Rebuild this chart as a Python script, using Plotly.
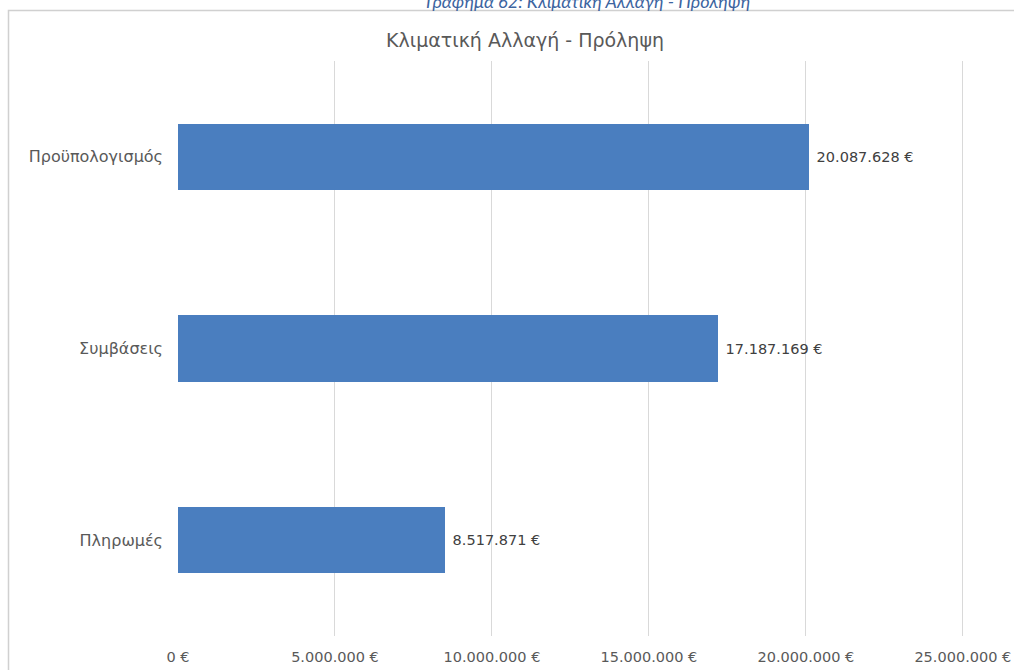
import plotly.graph_objects as go

categories = ["Προϋπολογισμός", "Συμβάσεις", "Πληρωμές"]
values = [20087628, 17187169, 8517871]
tick_vals = [0, 5000000, 10000000, 15000000, 20000000, 25000000]
title_text = "Κλιματική Αλλαγή - Πρόληψη"
caption_text = "Γράφημα 62: Κλιματική Αλλαγή - Πρόληψη"

def fmt(v):
    return f"{v:,}".replace(",", ".") + " €"

W, H = 1014, 670
L, R, T, B = 178, 50, 61, 34
pw, ph = W - L - R, H - T - B
x_max = tick_vals[-1] * 1.0015

def px_x(px):
    return (px - L) / pw

def px_y(py):
    return (H - B - py) / ph

font_family = "'DejaVu Sans', sans-serif"

fig = go.Figure(go.Bar(
    y=categories[::-1],
    x=values[::-1],
    orientation="h",
    marker=dict(color="#4A7EBF", line=dict(width=0)),
    width=0.345,
    text=[" " + fmt(v) for v in values[::-1]],
    textposition="outside",
    textfont=dict(size=14.5, color="#404040", family=font_family),
    cliponaxis=False,
))

fig.update_layout(
    width=W, height=H,
    margin=dict(l=L, r=R, t=T, b=B, autoexpand=False),
    paper_bgcolor="white",
    plot_bgcolor="white",
    separators=",.",
    showlegend=False,
    font=dict(family=font_family, color="#595959"),
    title=dict(text=title_text, x=525 / W, xanchor="center",
               y=1 - 40 / H, yanchor="middle",
               font=dict(size=19, color="#595959", family=font_family)),
    xaxis=dict(
        range=[0, x_max],
        tickvals=tick_vals,
        ticktext=[fmt(v) for v in tick_vals],
        showgrid=True, gridcolor="#D9D9D9", gridwidth=1,
        zeroline=False, showline=False,
        tickfont=dict(size=14.5, color="#595959"),
        ticklabelstandoff=10,
        automargin=False,
    ),
    yaxis=dict(
        showgrid=False, zeroline=False, showline=False,
        tickfont=dict(size=16, color="#595959"),
        ticklabelstandoff=14,
        automargin=False,
    ),
    bargap=0.0,
)

# chart border
fig.add_shape(type="rect", xref="paper", yref="paper",
              x0=px_x(8.5), x1=px_x(1030), y0=px_y(690), y1=px_y(10.5),
              line=dict(color="#D0D0D0", width=1.5), fillcolor="rgba(0,0,0,0)", layer="below")

# cropped caption above the chart (partly outside the page, as in the reference)
fig.add_annotation(text=caption_text, xref="paper", yref="paper",
                   x=px_x(588), y=px_y(1.5), xanchor="center", yanchor="middle",
                   showarrow=False,
                   font=dict(size=18, color="#3C64A0", family="Lato, sans-serif", style="italic"))

fig.write_html("out.html", config={"displayModeBar": False},
               post_script="document.body.style.margin='0';document.body.style.padding='0';")
